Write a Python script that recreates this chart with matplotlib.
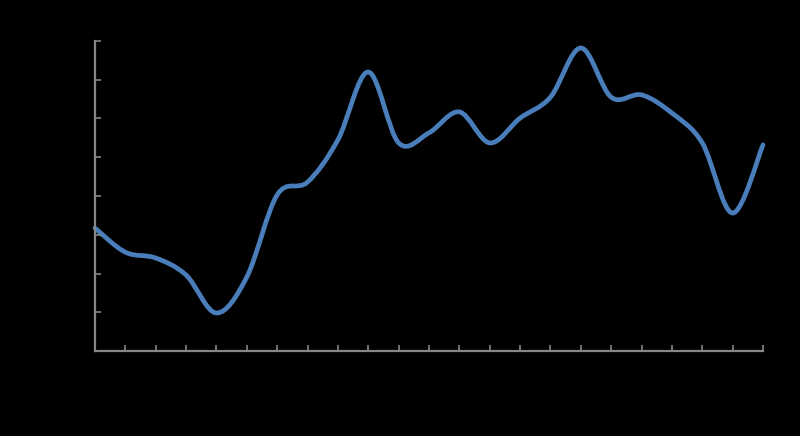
import numpy as np
import matplotlib
matplotlib.use("Agg")
import matplotlib.pyplot as plt
from matplotlib.path import Path
from matplotlib.patches import PathPatch

# category index and values (axis 0..80, no labels shown)
categories = list(range(23))
values = [31.7, 25.5, 24.0, 19.6, 9.8, 19.1, 40.3, 43.6, 54.5, 72.0, 53.7, 56.3,
          61.7, 53.7, 60.1, 65.5, 78.2, 65.5, 66.1, 61.4, 53.7, 35.6, 53.2]

line_color = "#4A7EBB"
axis_color = "#868686"


def smooth_path(xs, ys):
    # Excel style smoothed line: cubic bezier segments, tension 1/6
    pts = np.column_stack([xs, ys]).astype(float)
    n = len(pts)
    verts = [pts[0]]
    codes = [Path.MOVETO]
    for i in range(n - 1):
        p0 = pts[i - 1] if i > 0 else pts[i]
        p1 = pts[i]
        p2 = pts[i + 1]
        p3 = pts[i + 2] if i + 2 < n else pts[i + 1]
        c1 = p1 + (p2 - p0) / 6.0
        c2 = p2 - (p3 - p1) / 6.0
        verts += [c1, c2, p2]
        codes += [Path.CURVE4] * 3
    return Path(verts, codes)


fig = plt.figure(figsize=(8, 4.36), dpi=100, facecolor="black")
ax = fig.add_axes([95 / 800, (436 - 351) / 436, (763 - 95) / 800, (351 - 41) / 436])
ax.set_facecolor("black")

patch = PathPatch(smooth_path(categories, values), facecolor="none",
                  edgecolor=line_color, lw=3.4, capstyle="round", joinstyle="round",
                  clip_on=False)
ax.add_patch(patch)

ax.set_xlim(0, 22)
ax.set_ylim(0, 80)
ax.set_xticks(categories)
ax.set_yticks(np.arange(0, 81, 10))
ax.set_xticklabels([])
ax.set_yticklabels([])
ax.tick_params(direction="in", length=4, width=1.2, color=axis_color)

for s in ["top", "right"]:
    ax.spines[s].set_visible(False)
for s in ["left", "bottom"]:
    ax.spines[s].set_color(axis_color)
    ax.spines[s].set_linewidth(1.6)

fig.savefig("out.png", dpi=100, facecolor="black")
